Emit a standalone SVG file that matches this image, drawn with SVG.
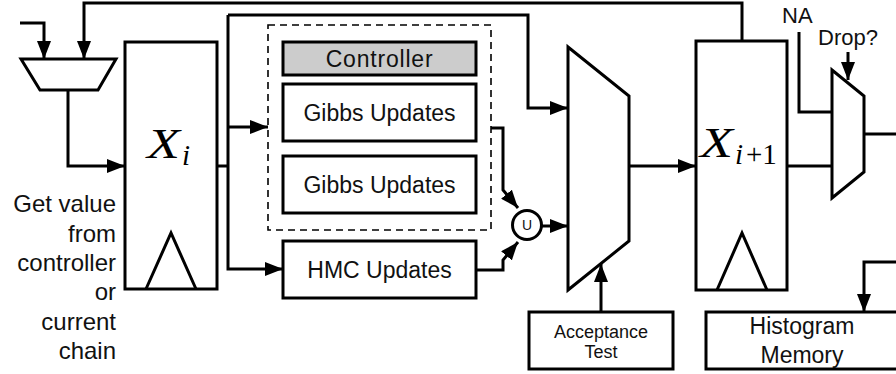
<svg xmlns="http://www.w3.org/2000/svg" width="896" height="374" viewBox="0 0 896 374">
  <defs>
    <marker id="arrow" markerUnits="userSpaceOnUse" markerWidth="18" markerHeight="14" viewBox="0 0 18 14" refX="18" refY="7" orient="auto">
      <path d="M0,0 L18,7 L0,14 z" fill="#000"/>
    </marker>
  </defs>
  <style>
    .box { fill: #fff; stroke: #000; stroke-width: 3; }
    .shape { fill: none; stroke: #000; stroke-width: 3; stroke-linejoin: miter; }
    .wire { fill: none; stroke: #000; stroke-width: 3; stroke-linejoin: miter; }
    .arr { marker-end: url(#arrow); }
    .dashed { fill: none; stroke: #000; stroke-width: 1.6; stroke-dasharray: 7 5; }
    .lbl { font-family: "Liberation Sans", Arial, sans-serif; font-size: 23px; fill: #111; }
    .side { font-size: 24px; }
    .sm { font-size: 18px; }
    .mid { text-anchor: middle; }
    .end { text-anchor: end; }
    .math { font-family: "Liberation Serif", "Times New Roman", serif; fill: #000; }
  </style>

  <!-- wires -->
  <g id="connectors">
    <path class="wire arr" d="M20,23 H44 V59"/>
    <path class="wire arr" d="M742,41 V3 H84 V59"/>
    <path class="wire arr" d="M68,90 V166 H125"/>
    <path class="wire" d="M217,166 H228"/>
    <path class="wire arr" d="M228,127 H268"/>
    <path class="wire arr" d="M228,15 V269 H283"/>
    <path class="wire arr" d="M228,15 H528 V108 H568"/>
    <path class="wire arr" d="M491,128 H503 V190 L518,208"/>
    <path class="wire arr" d="M476,270 H503 V260 L518,242"/>
    <path class="wire arr" d="M542,226 H568"/>
    <path class="wire arr" d="M601,312 V264"/>
    <path class="wire arr" d="M629,166 H696"/>
    <path class="wire" d="M787,166 H832"/>
    <path class="wire" d="M799,32 V112 H832"/>
    <path class="wire arr" d="M848,52 V80"/>
    <path class="wire" d="M864,134 H896"/>
    <path class="wire arr" d="M896,262 H864 V312"/>
  </g>

  <!-- input select mux -->
  <g id="input-mux">
    <polygon class="box" points="21,59 116,59 98,90 40,90"/>
  </g>

  <!-- input label -->
  <g id="input-label">
    <text class="lbl side end" x="116" y="212">Get value</text>
    <text class="lbl side end" x="116" y="242">from</text>
    <text class="lbl side end" x="116" y="271">controller</text>
    <text class="lbl side end" x="116" y="300">or</text>
    <text class="lbl side end" x="116" y="330">current</text>
    <text class="lbl side end" x="116" y="359">chain</text>
  </g>

  <!-- current state register -->
  <g id="reg-xi">
    <rect class="box" x="125" y="42" width="92" height="247"/>
    <path class="shape" d="M146,289 L171,233 L196,289"/>
    <text class="math" x="147" y="158" font-size="42" font-style="italic" textLength="33" lengthAdjust="spacingAndGlyphs">X</text>
    <text class="math" x="182" y="165" font-size="29" font-style="italic">i</text>
  </g>

  <!-- Gibbs group -->
  <g id="gibbs-group">
    <rect class="dashed" x="268" y="25" width="223" height="205"/>
  </g>
  <g id="controller">
    <rect class="box" x="283" y="42" width="193" height="33" style="fill:#cccccc"/>
    <text class="lbl mid" x="379.5" y="67" letter-spacing="0.8">Controller</text>
  </g>
  <g id="gibbs-1">
    <rect class="box" x="283" y="84" width="193" height="57"/>
    <text class="lbl mid" x="379.5" y="121">Gibbs Updates</text>
  </g>
  <g id="gibbs-2">
    <rect class="box" x="283" y="156" width="193" height="57"/>
    <text class="lbl mid" x="379.5" y="193">Gibbs Updates</text>
  </g>
  <g id="hmc">
    <rect class="box" x="283" y="241" width="193" height="57"/>
    <text class="lbl mid" x="379.5" y="278">HMC Updates</text>
  </g>

  <!-- union -->
  <g id="union">
    <circle class="box" cx="527" cy="225" r="14.5"/>
    <text class="lbl mid" x="527" y="230" style="font-size:14px">U</text>
  </g>

  <!-- accept/reject mux -->
  <g id="accept-mux">
    <polygon class="box" points="568,47 629,96 629,241 568,290"/>
  </g>
  <g id="acceptance-test">
    <rect class="box" x="529" y="312" width="144" height="57"/>
    <text class="lbl sm mid" x="601" y="338">Acceptance</text>
    <text class="lbl sm mid" x="601" y="358">Test</text>
  </g>

  <!-- next state register -->
  <g id="reg-xi1">
    <rect class="box" x="696" y="41" width="91" height="249"/>
    <path class="shape" d="M717,290 L742,233 L767,290"/>
    <text class="math" x="700" y="157" font-size="42" font-style="italic" textLength="33" lengthAdjust="spacingAndGlyphs">X</text>
    <text class="math" x="735" y="164" font-size="29" font-style="italic">i</text>
    <text class="math" x="746" y="164" font-size="29">+1</text>
  </g>

  <!-- drop mux -->
  <g id="drop-mux">
    <polygon class="box" points="832,70 864,96 864,172 832,198"/>
    <text class="lbl" x="782" y="23" style="font-size:22px">NA</text>
    <text class="lbl" x="818" y="45" style="font-size:22px">Drop?</text>
  </g>

  <!-- histogram memory -->
  <g id="histogram">
    <rect class="box" x="706" y="312" width="200" height="57"/>
    <text class="lbl mid" x="802" y="334">Histogram</text>
    <text class="lbl mid" x="802" y="363">Memory</text>
  </g>
</svg>
